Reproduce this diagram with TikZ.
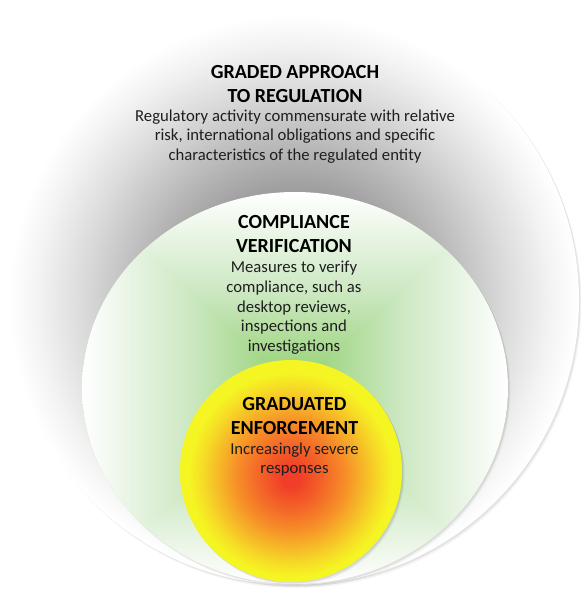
\documentclass[tikz,border=0pt]{standalone}
\usepackage{fontspec}
\setmainfont{Carlito}
\definecolor{gA}{RGB}{110,110,110}
\definecolor{gB}{RGB}{160,160,160}
\definecolor{gC}{RGB}{194,194,194}
\definecolor{gD}{RGB}{220,220,220}
\definecolor{gE}{RGB}{243,243,243}
\definecolor{grcore}{RGB}{145,208,110}
\definecolor{grmid}{RGB}{205,232,195}
\definecolor{rcore}{RGB}{240,62,40}
\definecolor{rb}{RGB}{243,95,40}
\definecolor{ormid}{RGB}{246,140,40}
\definecolor{orlight}{RGB}{246,185,40}
\definecolor{oryel}{RGB}{246,220,38}
\definecolor{yedge}{RGB}{245,245,35}
\definecolor{bodytext}{RGB}{30,30,30}
\pgfdeclareradialshading{grayglow}{\pgfpoint{0bp}{0bp}}{color(0bp)=(gA); color(10bp)=(gB); color(15bp)=(gC); color(18.75bp)=(gD); color(22.5bp)=(gE); color(25bp)=(white); color(50bp)=(white)}
\pgfdeclareradialshading{ryshade}{\pgfpoint{0bp}{-1.5bp}}{color(0bp)=(rcore); color(2bp)=(rcore); color(6.5bp)=(rb); color(12bp)=(ormid); color(16.5bp)=(orlight); color(20bp)=(oryel); color(23bp)=(yedge); color(25bp)=(yedge); color(50bp)=(yedge)}
\tikzset{
  titletext/.style={font=\fontsize{20}{24}\selectfont\bfseries, align=center, inner sep=0pt, text=black, anchor=north},
  bodytextstyle/.style={font=\fontsize{16.7}{19.7}\selectfont, align=center, inner sep=0pt, text=bodytext, anchor=north},
}
\begin{document}
\begin{tikzpicture}[x=1pt,y=-1pt]
\useasboundingbox (0,0) rectangle (581,590);
\fill[white] (0,0) rectangle (581,590);
% named centres
\coordinate (oc) at (294,300);
\coordinate (mc) at (295,388);
\coordinate (ic) at (291,471);
% ---------- outer circle ----------
\fill[black!4] (296.5,303) circle[radius=285pt];
\fill[black!11] (295.5,301.5) circle[radius=285pt];
\shade[shading=grayglow] (oc) circle[radius=285pt];
% ---------- middle ellipse ----------
\fill[black, opacity=0.04] (297.5,391) ellipse[x radius=213pt, y radius=196pt];
\fill[black, opacity=0.08] (296.5,389.5) ellipse[x radius=213pt, y radius=196pt];
\begin{scope}
  \clip (mc) ellipse[x radius=213pt, y radius=196pt];
  \shade[top color=white, bottom color=grcore, middle color=grmid] (82,192) rectangle (508,388);
  \shade[top color=grcore, bottom color=white, middle color=grmid] (82,388) rectangle (508,584);
  \begin{scope}
    \clip (295,388) -- (82,192) -- (82,584) -- cycle;
    \shade[left color=white, right color=grcore, middle color=grmid] (82,192) rectangle (295,584);
  \end{scope}
  \begin{scope}
    \clip (295,388) -- (508,192) -- (508,584) -- cycle;
    \shade[left color=grcore, right color=white, middle color=grmid] (295,192) rectangle (508,584);
  \end{scope}
\end{scope}
% ---------- inner circle ----------
\fill[black, opacity=0.05] (293.5,474) circle[radius=111pt];
\fill[black, opacity=0.09] (292.5,472.5) circle[radius=111pt];
\shade[shading=ryshade] (ic) circle[radius=111pt];
% ---------- texts ----------
\node[titletext] (t1) at (295,63) {\rule{0pt}{15pt}GRADED APPROACH\\TO REGULATION};
\node[bodytextstyle] (b1) at (295,107) {\rule{0pt}{14pt}Regulatory activity commensurate with relative\\risk, international obligations and specific\\characteristics of the regulated entity};
\node[titletext] (t2) at (294,213.6) {\rule{0pt}{15pt}COMPLIANCE\\VERIFICATION};
\node[bodytextstyle] (b2) at (294,258.5) {\rule{0pt}{14pt}Measures to verify\\compliance, such as\\desktop reviews,\\inspections and\\investigations};
\node[titletext] (t3) at (294.5,395) {\rule{0pt}{15pt}GRADUATED\\ENFORCEMENT};
\node[bodytextstyle] (b3) at (294.5,440) {\rule{0pt}{14pt}Increasingly severe\\responses};
\end{tikzpicture}
\end{document}
